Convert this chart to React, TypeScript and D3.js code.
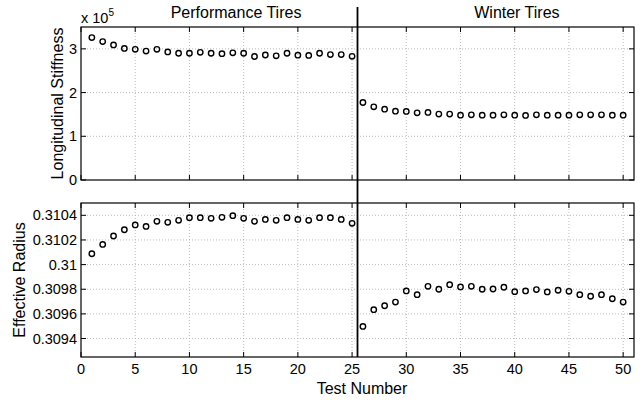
import { useEffect, useRef } from "react"
import * as d3 from "d3"

// test numbers 1..50 (first 25 performance tires, rest winter tires)
const testNumbers = [
  1, 2, 3, 4, 5, 6, 7, 8, 9, 10, 11, 12, 13, 14, 15, 16, 17, 18, 19, 20, 21, 22, 23, 24, 25,
  26, 27, 28, 29, 30, 31, 32, 33, 34, 35, 36, 37, 38, 39, 40, 41, 42, 43, 44, 45, 46, 47, 48, 49, 50,
]

// longitudinal stiffness, in units of 1e5
const stiffness = [
  3.257, 3.166, 3.09, 3.01, 2.99, 2.95, 2.99, 2.93, 2.9, 2.9, 2.92, 2.9, 2.89, 2.91, 2.9,
  2.825, 2.86, 2.84, 2.9, 2.855, 2.85, 2.9, 2.87, 2.87, 2.83,
  1.773, 1.673, 1.62, 1.575, 1.568, 1.537, 1.545, 1.507, 1.507, 1.484, 1.49, 1.484, 1.484, 1.49, 1.484,
  1.477, 1.49, 1.484, 1.484, 1.484, 1.49, 1.49, 1.49, 1.484, 1.484,
]

const radius = [
  0.310088, 0.310164, 0.310232, 0.310283, 0.310322, 0.31031, 0.310351, 0.310343, 0.310359, 0.310381,
  0.310381, 0.310376, 0.310384, 0.310397, 0.310376, 0.310351, 0.310367, 0.310359, 0.310381, 0.310367,
  0.310359, 0.310381, 0.310381, 0.310367, 0.310335,
  0.309498, 0.309634, 0.309666, 0.309696, 0.309786, 0.309756, 0.309824, 0.3098, 0.309837, 0.309819,
  0.309824, 0.3098, 0.309802, 0.309816, 0.30978, 0.309786, 0.309797, 0.309778, 0.309792, 0.309783,
  0.309756, 0.309743, 0.309756, 0.309723, 0.309696,
]

const xTicks = [0, 5, 10, 15, 20, 25, 30, 35, 40, 45, 50]
const stiffTicks = [0, 1, 2, 3]
const radiusTicks = [0.3094, 0.3096, 0.3098, 0.31, 0.3102, 0.3104]
const radiusLabels = ["0.3094", "0.3096", "0.3098", "0.31", "0.3102", "0.3104"]

const splitAt = 25.5
const font = "'Liberation Sans', Arial, Helvetica, sans-serif"

export default function App() {
  const svgRef = useRef<SVGSVGElement>(null)

  useEffect(() => {
    const width = 642, height = 402
    const left = 81, right = 634
    const top1 = 27, bottom1 = 180
    const top2 = 203, bottom2 = 357

    const svg = d3.select(svgRef.current)
    svg.selectAll("*").remove()
    svg.attr("width", width).attr("height", height)
      .style("font-family", font)

    svg.append("rect").attr("width", width).attr("height", height).attr("fill", "white")

    const x = d3.scaleLinear().domain([0, 51]).range([left, right])
    const y1 = d3.scaleLinear().domain([0, 3.5]).range([bottom1, top1])
    const y2 = d3.scaleLinear().domain([0.30925, 0.3105]).range([bottom2, top2])

    const panel = (y: d3.ScaleLinear<number, number>, yTicks: number[], yLabels: string[], values: number[], showX: boolean) => {
      const [yb, yt] = y.range()
      const g = svg.append("g")

      // grid
      g.selectAll(".gx").data(xTicks.filter(t => t > 0 && t < 51)).join("line")
        .attr("x1", d => x(d)).attr("x2", d => x(d))
        .attr("y1", yt).attr("y2", yb)
        .attr("stroke", "#aaa").attr("stroke-width", 0.8).attr("stroke-dasharray", "1,2")
      g.selectAll(".gy").data(yTicks.filter(t => y(t) < yb - 1)).join("line")
        .attr("x1", left).attr("x2", right)
        .attr("y1", d => y(d)).attr("y2", d => y(d))
        .attr("stroke", "#aaa").attr("stroke-width", 0.8).attr("stroke-dasharray", "1,2")

      // inward ticks on all four sides
      const tl = 5
      g.selectAll(".tb").data(xTicks).join("line")
        .attr("x1", d => x(d)).attr("x2", d => x(d))
        .attr("y1", yb).attr("y2", yb - tl).attr("stroke", "black")
      g.selectAll(".tt").data(xTicks).join("line")
        .attr("x1", d => x(d)).attr("x2", d => x(d))
        .attr("y1", yt).attr("y2", yt + tl).attr("stroke", "black")
      g.selectAll(".tlft").data(yTicks).join("line")
        .attr("x1", left).attr("x2", left + tl)
        .attr("y1", d => y(d)).attr("y2", d => y(d)).attr("stroke", "black")
      g.selectAll(".trgt").data(yTicks).join("line")
        .attr("x1", right).attr("x2", right - tl)
        .attr("y1", d => y(d)).attr("y2", d => y(d)).attr("stroke", "black")

      g.append("rect")
        .attr("x", left).attr("y", yt)
        .attr("width", right - left).attr("height", yb - yt)
        .attr("fill", "none").attr("stroke", "black").attr("stroke-width", 1.2)

      g.selectAll(".yl").data(yTicks).join("text")
        .attr("x", left - 4).attr("y", d => y(d)).attr("dy", "0.35em")
        .attr("text-anchor", "end").attr("font-size", 14.5)
        .text((d, i) => yLabels[i])

      if (showX) {
        g.selectAll(".xl").data(xTicks).join("text")
          .attr("x", d => x(d)).attr("y", yb + 17)
          .attr("text-anchor", "middle").attr("font-size", 14.5)
          .text(d => String(d))
      }

      g.selectAll("circle").data(values).join("circle")
        .attr("cx", (d, i) => x(testNumbers[i]))
        .attr("cy", d => y(d))
        .attr("r", 2.7)
        .attr("fill", "none").attr("stroke", "black").attr("stroke-width", 1.4)
    }

    panel(y1, stiffTicks, stiffTicks.map(String), stiffness, false)
    panel(y2, radiusTicks, radiusLabels, radius, true)

    // separator between tire types
    svg.append("line")
      .attr("x1", x(splitAt)).attr("x2", x(splitAt))
      .attr("y1", 7).attr("y2", bottom2)
      .attr("stroke", "black").attr("stroke-width", 1.8)

    // titles
    svg.append("text").attr("x", x(14.3)).attr("y", 18)
      .attr("text-anchor", "middle").attr("font-size", 16).text("Performance Tires")
    svg.append("text").attr("x", x(40.2)).attr("y", 18)
      .attr("text-anchor", "middle").attr("font-size", 16).text("Winter Tires")

    // exponent
    const ex = svg.append("text").attr("x", left).attr("y", 22.5).attr("font-size", 14.5)
    ex.append("tspan").text("x 10")
    ex.append("tspan").attr("font-size", 10).attr("dy", -7).text("5")

    // axis labels
    svg.append("text")
      .attr("transform", `translate(63,${(top1 + bottom1) / 2}) rotate(-90)`)
      .attr("text-anchor", "middle").attr("font-size", 16).text("Longitudinal Stiffness")
    svg.append("text")
      .attr("transform", `translate(25,${(top2 + bottom2) / 2}) rotate(-90)`)
      .attr("text-anchor", "middle").attr("font-size", 16).text("Effective Radius")
    svg.append("text")
      .attr("x", 362).attr("y", 394)
      .attr("text-anchor", "middle").attr("font-size", 16).text("Test Number")
  }, [])

  return <svg ref={svgRef} style={{ position: "absolute", left: 0, top: 0 }}></svg>
}
